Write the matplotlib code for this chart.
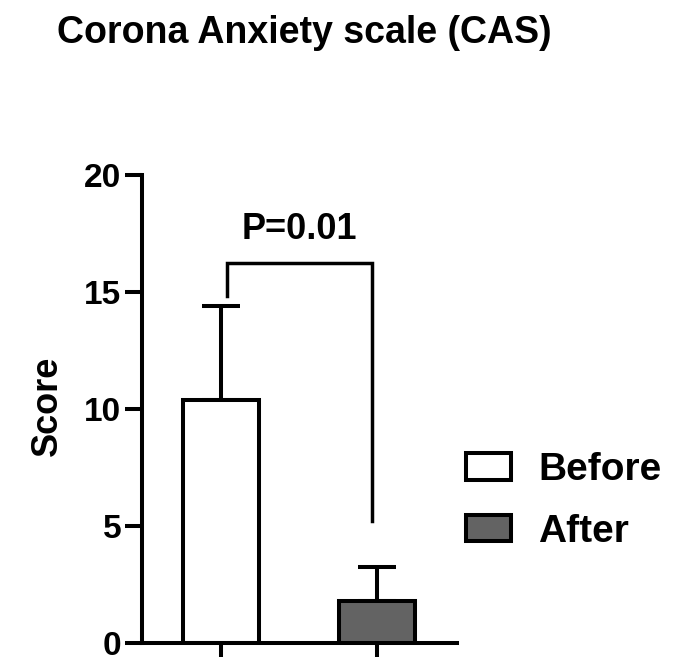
import matplotlib
matplotlib.use("Agg")
import matplotlib.pyplot as plt
from matplotlib.patches import Patch

plt.rcParams['font.family'] = ['Liberation Sans', 'DejaVu Sans']
plt.rcParams['font.weight'] = 'bold'

# data
groups = ['Before', 'After']
means = [10.4, 1.8]
sds = [4.0, 1.45]
colors = ['white', '#636363']
yticks = [0, 5, 10, 15, 20]

# significance bracket
p_label = 'P=0.01'
bracket_x = [0.04, 0.97]
bracket_top = 16.25
bracket_bottoms = [14.85, 5.2]

lw = 2.9
fig = plt.figure(figsize=(6.85, 6.57), dpi=100)
ax = fig.add_axes([142 / 685, 1 - 643 / 657, 315 / 685, 468 / 657])

x = list(range(len(groups)))
ax.bar(x, means, width=0.487, color=colors, edgecolor='black', linewidth=lw, zorder=2)
ax.errorbar(x, means, yerr=[[0] * len(sds), sds], fmt='none', ecolor='black',
            elinewidth=lw, capsize=14, capthick=lw, zorder=1)

# bracket
ax.plot([bracket_x[0], bracket_x[0], bracket_x[1], bracket_x[1]],
        [bracket_bottoms[0], bracket_top, bracket_top, bracket_bottoms[1]],
        color='black', lw=2.5, solid_joinstyle='miter', clip_on=False)
ax.text(sum(bracket_x) / 2, 17.25, p_label, ha='center', va='baseline',
        fontsize=26, fontweight='bold')

ax.set_xlim(-0.506, 1.513)
ax.set_ylim(0, 20)
ax.set_yticks(yticks)
ax.set_xticks(x)
ax.set_xticklabels([])
for s in ['top', 'right']:
    ax.spines[s].set_visible(False)
for s in ['left', 'bottom']:
    ax.spines[s].set_linewidth(lw)
ax.tick_params(axis='both', length=12, width=lw, labelsize=24, pad=3)
for lab in ax.get_yticklabels():
    lab.set_fontweight('bold')

fig.text(47 / 685, 1 - 406 / 657, 'Score', rotation=90, ha='center', va='center',
         fontsize=26, fontweight='bold')
fig.text(57 / 685, 1 - 43 / 657, 'Corona Anxiety scale (CAS)', ha='left', va='baseline',
         fontsize=27, fontweight='bold')

handles = [Patch(facecolor=c, edgecolor='black', linewidth=lw) for c in colors]
fig.legend(handles, groups, loc='center left', bbox_to_anchor=(466 / 685, 1 - 501 / 657),
           frameon=False, prop={'size': 28, 'weight': 'bold'},
           handlelength=1.16, handleheight=0.67, handletextpad=0.7, labelspacing=0.66,
           borderaxespad=0, borderpad=0)

fig.savefig('out.png', dpi=100)
